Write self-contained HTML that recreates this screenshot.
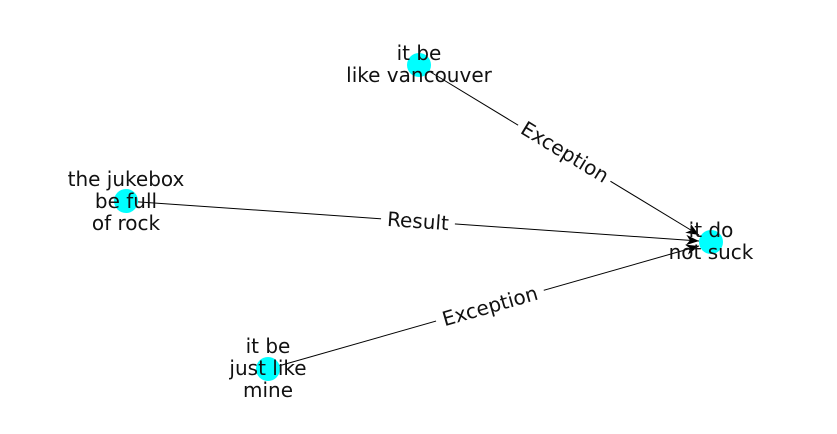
<!DOCTYPE html>
<html><head><meta charset="utf-8"><style>
html,body{margin:0;padding:0;background:#fff;}
svg{display:block;}
text{font-family:"DejaVu Sans","Liberation Sans",sans-serif;font-size:20px;fill:#111;}
</style></head><body>
<svg width="837" height="434" viewBox="0 0 837 434" xmlns="http://www.w3.org/2000/svg">
<defs>
<marker id="a" viewBox="0 0 10 10" refX="10" refY="5" markerWidth="13" markerHeight="13" markerUnits="userSpaceOnUse" orient="auto">
<path d="M0,1 L10,5 L0,9 L3,5 z" fill="#000"/>
</marker>
</defs>
<g stroke="#000" stroke-width="1" fill="none">
<line x1="419" y1="65" x2="699" y2="235" marker-end="url(#a)"/>
<line x1="126" y1="201" x2="699" y2="241" marker-end="url(#a)"/>
<line x1="268" y1="369" x2="699" y2="246" marker-end="url(#a)"/>
</g>
<g fill="#00ffff">
<circle cx="419" cy="65" r="12"/>
<circle cx="126" cy="201" r="12"/>
<circle cx="711" cy="242" r="12"/>
<circle cx="268" cy="369" r="12"/>
</g>
<g text-anchor="middle">
<g transform="translate(565,152) rotate(31.2)"><rect x="-54" y="-12" width="108" height="24" fill="#fff"/><text y="7">Exception</text></g>
<g transform="translate(418,221) rotate(4)"><rect x="-37" y="-12" width="74" height="24" fill="#fff"/><text y="7">Result</text></g>
<g transform="translate(490,306) rotate(-16)"><rect x="-56" y="-12" width="112" height="24" fill="#fff"/><text y="7">Exception</text></g>
<text x="419" y="60">it be</text>
<text x="419" y="82">like vancouver</text>
<text x="126" y="186">the jukebox</text>
<text x="126" y="208">be full</text>
<text x="126" y="230">of rock</text>
<text x="711" y="237">it do</text>
<text x="711" y="259">not suck</text>
<text x="268" y="353">it be</text>
<text x="268" y="375">just like</text>
<text x="268" y="397">mine</text>
</g>
</svg>
</body></html>
